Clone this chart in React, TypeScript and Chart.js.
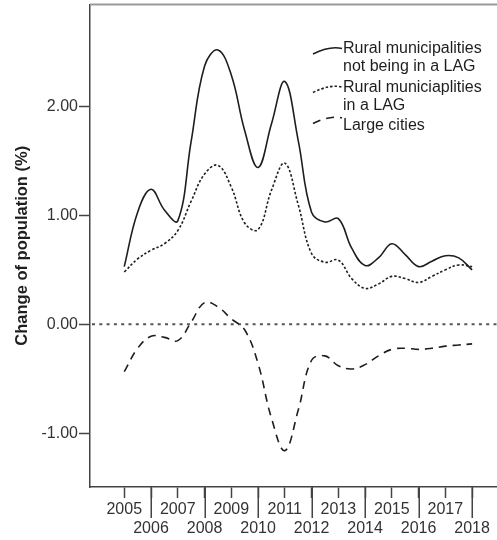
import React, { useEffect, useRef } from 'react';
import { Chart, registerables } from 'chart.js';

Chart.register(...registerables);

// ---------- data ----------
const tickYears = [2005, 2006, 2007, 2008, 2009, 2010, 2011, 2012, 2013, 2014, 2015, 2016, 2017, 2018];
const sampleYears = [
  2005, 2005.5, 2006, 2006.5, 2007, 2007.5, 2008, 2008.5, 2009, 2009.5, 2010, 2010.5, 2011, 2011.5,
  2012, 2012.5, 2013, 2013.5, 2014, 2014.5, 2015, 2015.5, 2016, 2016.5, 2017, 2017.5, 2018,
];
const ruralNotLag = [
  0.53, 1.03, 1.24, 1.05, 0.95, 1.68, 2.37, 2.52, 2.29, 1.78, 1.44, 1.84, 2.23, 1.69,
  1.03, 0.94, 0.97, 0.7, 0.54, 0.61, 0.74, 0.64, 0.53, 0.58, 0.63, 0.61, 0.5,
];
const ruralLag = [
  0.48, 0.6, 0.68, 0.74, 0.86, 1.13, 1.38, 1.46, 1.26, 0.93, 0.87, 1.23, 1.48, 1.1,
  0.65, 0.57, 0.59, 0.42, 0.33, 0.37, 0.44, 0.42, 0.385, 0.44, 0.5, 0.545, 0.53,
];
const largeCities = [
  -0.435, -0.22, -0.11, -0.12, -0.15, 0.02, 0.2, 0.16, 0.05, -0.05, -0.36, -0.86, -1.16, -0.79,
  -0.33, -0.29, -0.38, -0.41, -0.37, -0.29, -0.23, -0.22, -0.23, -0.22, -0.2, -0.19, -0.18,
];
const yTicks = [-1, 0, 1, 2];
const seriesLabels = [
  'Rural municipalities\nnot being in a LAG',
  'Rural municiaplities\nin a LAG',
  'Large cities',
];
const yTitle = 'Change of population (%)';

// ---------- styling ----------
const FONT = "Arial, 'Liberation Sans', sans-serif";
const INK = '#1e1e1e';
const AXIS = '#444';
const X_MIN = 2003.72;
const X_MAX = 2018.93;
const Y_MIN = -1.494;
const Y_MAX = 2.937;

const toPoints = (vals: number[]) => vals.map((v, i) => ({ x: sampleYears[i], y: v }));

const decorPlugin = {
  id: 'decor',
  beforeDatasetsDraw(chart: any) {
    const { ctx, chartArea, scales } = chart;
    const y0 = scales.y.getPixelForValue(0);
    ctx.save();
    ctx.strokeStyle = '#555';
    ctx.lineWidth = 2;
    ctx.setLineDash([3, 4.3]);
    ctx.beginPath();
    ctx.moveTo(chartArea.left + 2, y0);
    ctx.lineTo(chartArea.right, y0);
    ctx.stroke();
    ctx.restore();
  },
  afterDraw(chart: any) {
    const { ctx, chartArea, scales } = chart;
    ctx.save();
    // top frame line
    ctx.strokeStyle = '#999';
    ctx.lineWidth = 2;
    ctx.beginPath();
    ctx.moveTo(chartArea.left, chartArea.top);
    ctx.lineTo(chartArea.right, chartArea.top);
    ctx.stroke();
    // long ticks for even years
    ctx.strokeStyle = AXIS;
    ctx.lineWidth = 1.5;
    tickYears.forEach((yr) => {
      if (yr % 2 === 0) {
        const px = Math.round(scales.x.getPixelForValue(yr)) + 0.25;
        ctx.beginPath();
        ctx.moveTo(px, chartArea.bottom);
        ctx.lineTo(px, chartArea.bottom + 31);
        ctx.stroke();
      }
    });
    // legend
    const sampleY = [51.5, 90, 121];
    const baselines = [[53, 70.5], [92, 109.5], [130]];
    chart.data.datasets.forEach((ds: any, i: number) => {
      const sy = sampleY[i];
      ctx.strokeStyle = ds.borderColor;
      ctx.lineWidth = ds.borderWidth;
      ctx.setLineDash(ds.borderDash || []);
      ctx.beginPath();
      ctx.moveTo(313, sy + 2.5);
      ctx.quadraticCurveTo(330, sy - 6, 342, sy - 3);
      ctx.stroke();
      ctx.setLineDash([]);
      ctx.fillStyle = INK;
      ctx.font = `16px ${FONT}`;
      ctx.textBaseline = 'alphabetic';
      ctx.textAlign = 'left';
      String(ds.label).split('\n').forEach((line: string, j: number) => {
        ctx.fillText(line, 343, baselines[i][j]);
      });
    });
    ctx.restore();
  },
};

export default function App() {
  const ref = useRef<HTMLCanvasElement | null>(null);

  useEffect(() => {
    if (!ref.current) return;
    const common = { borderColor: INK, borderWidth: 1.6, pointRadius: 0, tension: 0.4, fill: false };
    const chart = new Chart(ref.current, {
      type: 'line',
      data: {
        datasets: [
          { ...common, label: seriesLabels[0], data: toPoints(ruralNotLag) },
          { ...common, label: seriesLabels[1], data: toPoints(ruralLag), borderDash: [2.5, 2] },
          { ...common, label: seriesLabels[2], data: toPoints(largeCities), borderDash: [8, 6] },
        ],
      },
      options: {
        animation: false,
        responsive: false,
        devicePixelRatio: 1,
        layout: { padding: { top: 4.5, left: 0, right: 0, bottom: 0 } },
        plugins: { legend: { display: false }, tooltip: { enabled: false } },
        scales: {
          x: {
            type: 'linear',
            min: X_MIN,
            max: X_MAX,
            afterBuildTicks: (scale: any) => {
              scale.ticks = tickYears.map((v) => ({ value: v }));
            },
            afterFit: (scale: any) => {
              scale.height = 53;
              scale.paddingLeft = 0;
              scale.paddingRight = 0;
            },
            grid: { drawOnChartArea: false, drawTicks: true, tickLength: 11, tickWidth: 1.5, tickColor: AXIS },
            border: { display: true, color: AXIS, width: 1.5 },
            ticks: {
              autoSkip: false,
              maxRotation: 0,
              minRotation: 0,
              padding: 1.5,
              color: '#333',
              font: { family: FONT, size: 16 },
              callback: (v: any) => (Number(v) % 2 === 1 ? String(v) : ['', String(v)]),
            },
          },
          y: {
            type: 'linear',
            min: Y_MIN,
            max: Y_MAX,
            afterBuildTicks: (scale: any) => {
              scale.ticks = yTicks.map((v) => ({ value: v }));
            },
            afterFit: (scale: any) => {
              scale.width = 90;
              scale.paddingTop = 0;
              scale.paddingBottom = 0;
            },
            grid: { drawOnChartArea: false, drawTicks: true, tickLength: 11, tickWidth: 1.5, tickColor: AXIS },
            border: { display: true, color: AXIS, width: 1.5 },
            ticks: {
              padding: 1,
              color: '#333',
              font: { family: FONT, size: 16 },
              callback: (v: any) => Number(v).toFixed(2),
            },
            title: {
              display: true,
              text: yTitle,
              color: INK,
              font: { family: FONT, size: 16.5, weight: 'bold' },
              padding: { top: 12.2, bottom: 0 },
            },
          },
        },
      },
      plugins: [decorPlugin],
    } as any);
    return () => chart.destroy();
  }, []);

  return (
    <div style={{ position: 'fixed', left: 0, top: 0, width: 497, height: 540, background: '#fff' }}>
      <canvas ref={ref} width={497} height={540} style={{ display: 'block', width: 497, height: 540 }} />
    </div>
  );
}
